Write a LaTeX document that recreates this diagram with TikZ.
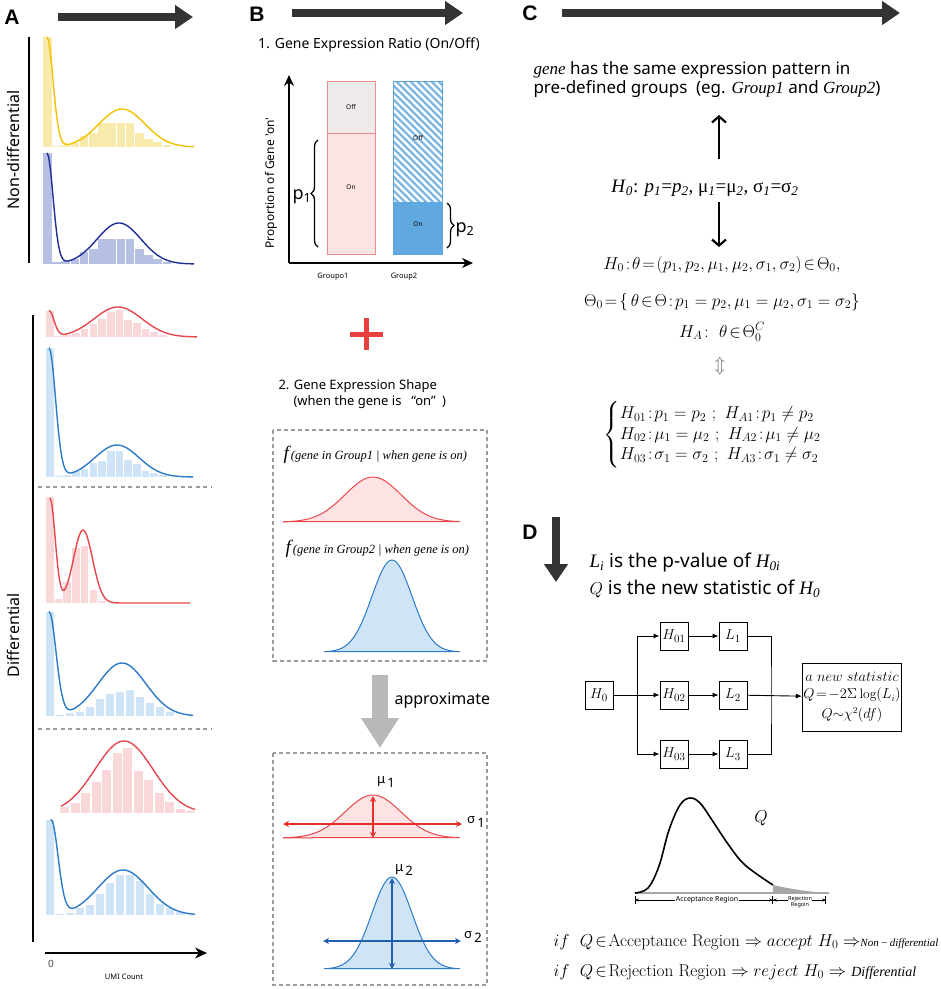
\documentclass[tikz,border=0pt]{standalone}
\usepackage{amsmath,amssymb}
\usepackage{fontspec}
\newfontfamily\yh{Noto Sans}
\newfontfamily\arl{Liberation Sans}
\newfontfamily\tms{Liberation Serif}
\usetikzlibrary{arrows.meta,decorations.pathreplacing,positioning}
\newcommand\fsz[1]{\fontsize{#1}{#1}\selectfont}
\definecolor{arrowgray}{HTML}{333333}
\definecolor{sepgray}{HTML}{9A9A9A}
\definecolor{ylwline}{HTML}{F2C200}
\definecolor{ylwbar}{HTML}{F8E9AC}
\definecolor{dbline}{HTML}{1F2F9A}
\definecolor{dbbar}{HTML}{B6BFE4}
\definecolor{rdline}{HTML}{E8474C}
\definecolor{rdbar}{HTML}{FAD7D8}
\definecolor{blline}{HTML}{2B7BCA}
\definecolor{blbar}{HTML}{CFE4F6}
\definecolor{rdborder}{HTML}{F08D8D}
\definecolor{rdon}{HTML}{FDE3E3}
\definecolor{rdoff}{HTML}{EFEBEB}
\definecolor{blborder}{HTML}{5DA5DD}
\definecolor{blon}{HTML}{5FA8E0}
\definecolor{redarrow}{HTML}{E8302A}
\definecolor{bluearrow}{HTML}{1F5FAE}
\definecolor{plusred}{HTML}{E8403F}
\definecolor{approxgray}{HTML}{B8B8B8}
\tikzset{
  bigarrow/.style={draw=arrowgray, line width=8pt, -{Triangle[length=18pt,width=23pt]}},
  panel/.style={font=\arl\bfseries\fsz{21}},
  lbl/.style={font=\yh\fsz{#1}},
  axisline/.style={line width=1.3pt},
  sepline/.style={draw=sepgray, line width=1.2pt, dash pattern=on 4pt off 3.5pt},
  dashbox/.style={draw=sepgray, line width=1.1pt, dash pattern=on 4pt off 3pt},
  hist/.style={line width=1.4pt},
  brc/.style={decorate, decoration={brace, amplitude=7pt}, line width=1.3pt},
  thinarr/.style={line width=2.2pt, -{Straight Barb[length=6pt,width=14pt]}},
  twoarr/.style={line width=1.3pt, {Stealth[length=6pt,width=6pt]}-{Stealth[length=6pt,width=6pt]}},
  flowbox/.style={draw, line width=0.9pt, minimum size=28pt, inner sep=0pt, font=\fsz{15}},
  flow/.style={line width=0.9pt, -{Latex[length=6pt,width=5pt]}},
}
\begin{document}
\begin{tikzpicture}[x=1pt,y=-1pt]
\fill[white] (0,0) rectangle (941,989);
\useasboundingbox (0,0) rectangle (941,989);

\node[panel] (labA) at (12,17) {A};
\draw[bigarrow] (58,17) -- (193,17);
\node[lbl=16, rotate=90] (nondiff) at (13,150) {Non-differential};
\node[lbl=16, rotate=90] (diff) at (13,635) {Differential};
\draw[axisline] (29,37) -- (29,263);
\draw[axisline] (33,315) -- (33,942);
\draw[sepline] (38,487) -- (211,487);
\draw[sepline] (38,729) -- (211,729);

\foreach \t [count=\k from 0] in {37,146,145,143,136,133,123,122.7,122.7,123,133,139,142,145}
  \fill[ylwbar] ({43+9.2*\k},147) rectangle ({51.6+9.2*\k},\t);
\draw[hist, ylwline] plot[domain=47:194, samples=90] (\x,{147-110*exp(-0.5*((\x-47)/6)^2)-38*exp(-0.5*((\x-122)/23)^2)});

\foreach \t [count=\k from 0] in {153,262,261,259,252,249,239,239,239,239,249,255,259,262}
  \fill[dbbar] ({43+9.2*\k},264) rectangle ({51.6+9.2*\k},\t);
\draw[hist, dbline] plot[domain=47:194, samples=90] (\x,{264-111*exp(-0.5*((\x-47)/6)^2)-41*exp(-0.5*((\x-119)/22)^2)});

\foreach \t [count=\k from 0] in {311,336,335,333,329,324,319,312,310,320,323,329,332,335}
  \fill[rdbar] ({46+8.7*\k},337) rectangle ({53.6+8.7*\k},\t);
\draw[hist, rdline] plot[domain=49:197, samples=90] (\x,{337-26*exp(-0.5*((\x-49)/5)^2)-30*exp(-0.5*((\x-118)/24)^2)});

\foreach \t [count=\k from 0] in {348,476,475,471,469,463,461,451,451,460,464,471,473,475}
  \fill[blbar] ({46+8.7*\k},477) rectangle ({53.6+8.7*\k},\t);
\draw[hist, blline] plot[domain=49:193, samples=90] (\x,{477-129*exp(-0.5*((\x-49)/6.5)^2)-32*exp(-0.5*((\x-117)/22)^2)});

\foreach \t [count=\k from 0] in {497,599,582,548,546,590,601}
  \fill[rdbar] ({46+8.7*\k},603) rectangle ({53.6+8.7*\k},\t);
\draw[hist, rdline] plot[domain=50:190, samples=90] (\x,{603-105*exp(-0.5*((\x-50)/5.2)^2)-73*exp(-0.5*((\x-83)/9.5)^2)});

\foreach \t [count=\k from 0] in {612,715,713,712,707,699,694,692,690,697,703,707,712}
  \fill[blbar] ({46+10*\k},716) rectangle ({54.3+10*\k},\t);
\draw[hist, blline] plot[domain=49:193, samples=90] (\x,{716-104*exp(-0.5*((\x-49)/7)^2)-53*exp(-0.5*((\x-122)/24)^2)});

\foreach \t [count=\k from 0] in {807,803,793,782,770,753,748,771,780,793,802,809,811}
  \fill[rdbar] ({60+10.5*\k},813) rectangle ({69+10.5*\k},\t);
\draw[hist, rdline] plot[domain=61:195, samples=70] (\x,{813-72*exp(-0.5*((\x-124)/29)^2)});

\foreach \t [count=\k from 0] in {820,914,913,908,905,894,883,875,875,881,894,904,908,912}
  \fill[blbar] ({46+10*\k},915) rectangle ({54.3+10*\k},\t);
\draw[hist, blline] plot[domain=51:195, samples=90] (\x,{915-95*exp(-0.5*((\x-51)/7)^2)-45*exp(-0.5*((\x-123)/25)^2)});

\draw[line width=1.5pt, -{Stealth[length=12pt,width=11pt]}] (45,953) -- (207,953);
\node[lbl=10, text=black!70] (zero) at (51,964) {0};
\node[lbl=7.5] (umi) at (124,977) {UMI Count};

\node[panel] (labB) at (257,14) {B};
\draw[bigarrow] (292,13) -- (463,13);
\node[lbl=14] (ratio) at (369,45) {1. Gene Expression Ratio (On/Off)};
\draw[line width=1.4pt, -{Stealth[length=11pt,width=10pt]}] (289,263) -- (289,75);
\draw[line width=1.4pt, -{Stealth[length=11pt,width=10pt]}] (289,263) -- (473,263);
\node[lbl=12, rotate=90] (prop) at (271,183) {Proportion of Gene 'on'};

\fill[rdoff] (327,81) rectangle (375,133);
\begin{scope}
\clip (327,81) rectangle (375,133);
\foreach \i in {0,...,16}
  \draw[rdbar!80!gray!40, line width=1pt] ({270+7*\i},81) -- ++(60,60);
\end{scope}
\fill[rdon] (327,133) rectangle (375,254);
\draw[rdborder, line width=1pt] (327,81) rectangle (375,254) (327,133) -- (375,133);
\node[lbl=6.5] (off1) at (351,107) {Off};
\node[lbl=6.5] (on1) at (351,187) {On};

\begin{scope}
\clip (393,81) rectangle (442,202);
\foreach \i in {0,...,25}
  \draw[blborder!80, line width=2.3pt] ({270+7*\i},81) -- ++(130,130);
\end{scope}
\fill[blon] (393,202) rectangle (442,254);
\draw[blborder, line width=1pt] (393,81) rectangle (442,254) (393,202) -- (442,202);
\node[lbl=6.5] (off2) at (418,138) {Off};
\node[lbl=6.5] (on2) at (418,224) {On};

\draw[brc] (318,247) -- (318,140);
\node[lbl=18] (p1) at (302,197) {p\textsubscript{1}};
\draw[brc] (447,203) -- (447,248);
\node[lbl=18] (p2) at (465,230) {p\textsubscript{2}};
\node[lbl=7.5] (g1) at (333,277) {Groupo1};
\node[lbl=7.5] (g2) at (404,277) {Group2};

\draw[plusred, line width=5pt] (350,334) -- (383,334) (366,318) -- (366,350);

\node[lbl=13, anchor=west] (shape) at (275,386) {2. Gene Expression Shape};
\node[lbl=13, anchor=west] (when) at (290,402) {(when the gene is \enspace“on”\enspace)};

\draw[dashbox] (273,430) rectangle (487,661);
\node[anchor=west, font=\tms\itshape\fsz{12.5}] (f1) at (280,455) {{\fsz{19}f}\,(gene in Group1 | when gene is on)};
\draw[rdline, fill=rdon, line width=1pt] plot[domain=283:460, samples=70] (\x,{522-45*exp(-0.5*((\x-373)/28)^2)}) -- cycle;
\node[anchor=west, font=\tms\itshape\fsz{12.5}] (f2) at (282,549) {{\fsz{19}f}\,(gene in Group2 | when gene is on)};
\draw[blline, fill=blbar, line width=1pt] plot[domain=324:460, samples=70] (\x,{652-92*exp(-0.5*((\x-392)/20)^2)}) -- cycle;

\draw[approxgray, line width=16pt, -{Triangle[length=30pt,width=36pt]}] (380,675) -- (380,748);
\node[lbl=16, anchor=west] (approx) at (391,701) {approximate};

\draw[dashbox] (273,753) rectangle (487,985);
\draw[rdline, fill=rdon, line width=1pt] plot[domain=283:460, samples=70] (\x,{838-43*exp(-0.5*((\x-373)/28)^2)}) -- cycle;
\draw[twoarr, redarrow] (283,824) -- (462,824);
\draw[twoarr, redarrow] (373,796) -- (373,838);
\node[lbl=13] (mu1) at (386,782) {μ\,\raisebox{-4pt}{1}};
\node[lbl=13] (sig1) at (476,822) {σ\,\raisebox{-4pt}{1}};
\draw[blline, fill=blbar, line width=1pt] plot[domain=324:460, samples=70] (\x,{969-92*exp(-0.5*((\x-392)/20)^2)}) -- cycle;
\draw[twoarr, bluearrow] (323,941) -- (461,941);
\draw[twoarr, bluearrow] (392,878) -- (392,969);
\node[lbl=13] (mu2) at (404,870) {μ\,\raisebox{-4pt}{2}};
\node[lbl=13] (sig2) at (473,937) {σ\,\raisebox{-4pt}{2}};

\node[panel] (labC) at (530,13) {C};
\draw[bigarrow] (562,13) -- (900,13);
\node[lbl=17, anchor=west] (same1) at (530,70) {{\tms\itshape gene} has the same expression pattern in};
\node[lbl=17, anchor=west] (same2) at (530,89) {pre-defined groups\enspace (eg. {\tms\itshape Group1} and {\tms\itshape Group2})};
\draw[thinarr, {Straight Barb[length=6pt,width=14pt]}-] (719,115) -- (719,159);
\node[font=\tms\fsz{19}] (h0) at (705,188) {\textit{H}\textsubscript{\textit{0}}: \textit{p}\textsubscript{\textit{1}}=\textit{p}\textsubscript{\textit{2}}, μ\textsubscript{\textit{1}}=μ\textsubscript{\textit{2}}, σ\textsubscript{\textit{1}}=σ\textsubscript{\textit{2}}};
\draw[thinarr] (719,202) -- (719,247);
\node[font=\fsz{18.5}] (theta) at (722,265) {$H_0\!:\!\theta\!=\!(p_1,p_2,\mu_1,\mu_2,\sigma_1,\sigma_2)\!\in\!\Theta_0,$};
\node[font=\fsz{18.5}] (Theta) at (722,302) {$\Theta_0\!=\!\{\,\theta\!\in\!\Theta\!:\!p_1=p_2,\mu_1=\mu_2,\sigma_1=\sigma_2\}$};
\node[font=\fsz{18.5}] (HA) at (722,332) {$H_A\!:\ \theta\!\in\!\Theta_0^C$};
\node[font=\fsz{18}, text=black!60] (equiv) at (720,366) {$\Updownarrow$};
\node[font=\fsz{18.5}, anchor=west] (system) at (600,435) {$\left\{\renewcommand\arraystretch{1.12}\begin{array}{@{}l}
H_{01}\!:\!p_1=p_2\ ;\ H_{A1}\!:\!p_1\neq p_2\\
H_{02}\!:\!\mu_1=\mu_2\ ;\ H_{A2}\!:\!\mu_1\neq\mu_2\\
H_{03}\!:\!\sigma_1=\sigma_2\ ;\ H_{A3}\!:\!\sigma_1\neq\sigma_2
\end{array}\right.$};

\node[panel] (labD) at (530,532) {D};
\draw[bigarrow] (556,517) -- (556,582);
\node[lbl=19, anchor=west] (Li) at (586,563) {{\tms\itshape L\textsubscript{i}} is the p-value of {\tms\itshape H\textsubscript{0i}}};
\node[lbl=19, anchor=west] (Qis) at (586,589) {$Q$ is the new statistic of {\tms\itshape H\textsubscript{0}}};

\node[flowbox] (H0) at (599,695) {$H_0$};
\node[flowbox] (H01) at (674,636) {$H_{01}$};
\node[flowbox] (H02) at (674,695) {$H_{02}$};
\node[flowbox] (H03) at (674,754) {$H_{03}$};
\node[flowbox] (L1) at (733,636) {$L_1$};
\node[flowbox] (L2) at (733,695) {$L_2$};
\node[flowbox] (L3) at (733,754) {$L_3$};
\node[draw, line width=0.9pt, minimum width=98pt, minimum height=68pt, inner sep=1pt, align=center, font=\fsz{13.5}] (stat) at (852,697)
  {$a\ new\ statistic$\\[4pt] $Q\!=\!-2\Sigma\log(L_i)$\\[4pt] $Q{\sim}\chi^2(df)$};
\coordinate (split) at (637,695);
\coordinate (merge) at (771,695);
\draw[line width=0.9pt] (H0) -- (split);
\draw[flow] (split) -- (H02);
\draw[flow] (split) |- (H01);
\draw[flow] (split) |- (H03);
\draw[flow] (H01) -- (L1);
\draw[flow] (H02) -- (L2);
\draw[flow] (H03) -- (L3);
\draw[line width=0.9pt] (L1) -| (merge) |- (L3);
\draw[flow] (L2) -- (stat);

\fill[black!35] (773,885) .. controls (790,889) and (810,892) .. (829,893) -- (773,893) -- cycle;
\draw[black!35, line width=1.8pt] (635,893) -- (829,893);
\draw[line width=1.6pt] plot[smooth, tension=0.6] coordinates {(635,893) (648,888) (659,866) (669,830) (680,805) (690,798) (700,803) (712,820) (728,844) (745,865) (773,885)};
\node[font=\fsz{17}] (Q) at (761,818) {$Q$};
\coordinate (accL) at (635,900);
\coordinate (accR) at (773,900);
\coordinate (rejR) at (826,900);
\draw[line width=0.8pt, {Bar[width=8pt]}-{Bar[width=8pt]}] (accL) -- (accR);
\draw[line width=0.8pt, {Stealth[length=4pt,width=3pt]}-{Stealth[length=4pt,width=3pt]}] (accL) -- (accR);
\draw[line width=0.8pt, -{Bar[width=8pt]}] (accR) -- (rejR);
\draw[line width=0.8pt, {Stealth[length=4pt,width=3pt]}-{Stealth[length=4pt,width=3pt]}] (accR) -- (rejR);
\node[lbl=7, fill=white, inner sep=1pt] (acc) at (707,900) {Acceptance Region};
\node[lbl=5.5, fill=white, inner sep=0.5pt, align=center] (rej) at (800,902) {Rejection\\Regoin};

\node[font=\fsz{17.28}, anchor=west] (ifacc) at (550,942) {$if\ \ Q\!\in\!\text{Acceptance Region}\Rightarrow accept\ H_0\Rightarrow${\tms\itshape\fsz{11}Non\,−\,differential}};
\node[font=\fsz{17.28}, anchor=west] (ifrej) at (550,972) {$if\ \ Q\!\in\!\text{Rejection Region}\Rightarrow reject\ H_0\Rightarrow$ {\tms\itshape\fsz{14}Differential}};
\end{tikzpicture}
\end{document}
